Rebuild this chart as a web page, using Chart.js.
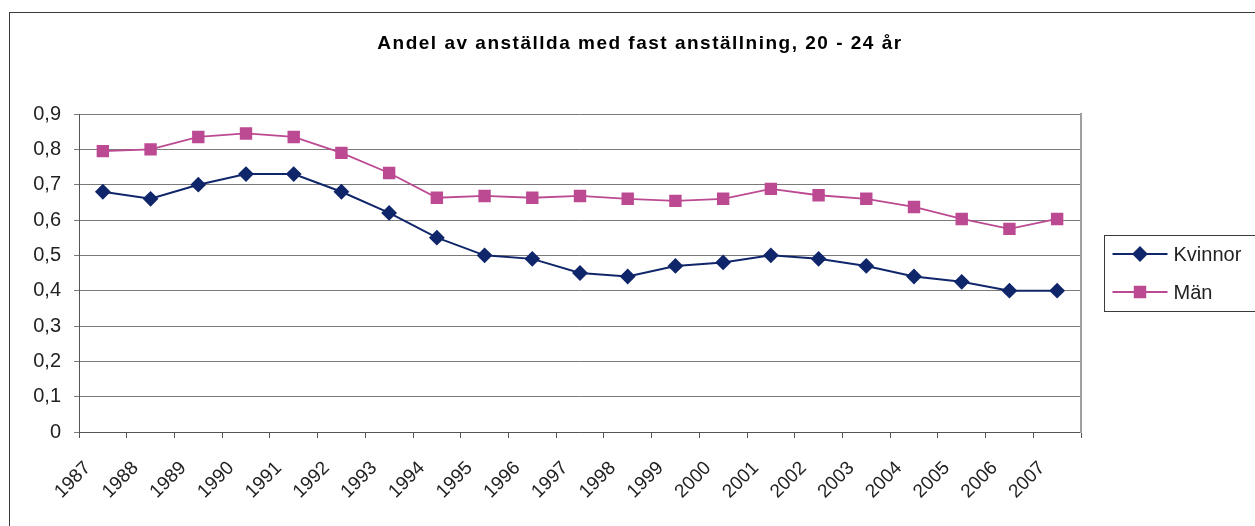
<!DOCTYPE html>
<html>
<head>
<meta charset="utf-8">
<script src="https://cdn.jsdelivr.net/npm/chart.js@4.4.1/dist/chart.umd.min.js"></script>
<style>
html, body { margin: 0; padding: 0; background: #fff; }
#DivGraficos { width: 1255px; height: 526px; }
</style>
</head>
<body>
<div id="DivGraficos"><canvas id="grafica" width="1255" height="526"></canvas></div>
<script>
// Datos
const years = ['1987', '1988', '1989', '1990', '1991', '1992', '1993', '1994', '1995', '1996', '1997',
    '1998', '1999', '2000', '2001', '2002', '2003', '2004', '2005', '2006', '2007'];
const kvinnor = [0.68, 0.66, 0.70, 0.73, 0.73, 0.68, 0.62, 0.55, 0.50, 0.49, 0.45,
    0.44, 0.47, 0.48, 0.50, 0.49, 0.47, 0.44, 0.425, 0.40, 0.40];
const man = [0.795, 0.80, 0.835, 0.845, 0.835, 0.79, 0.733, 0.663, 0.668, 0.663, 0.668,
    0.66, 0.654, 0.66, 0.688, 0.67, 0.66, 0.637, 0.603, 0.575, 0.603];
const seriesNames = ['Kvinnor', 'Män'];
const titleText = 'Andel av anställda med fast anställning, 20 - 24 år';

const FONT = "'Liberation Sans', Arial, sans-serif";
const NAVY = '#10266a';
const PINK = '#bc4a92';

//Marco exterior, titulo espaciado y leyenda con linea + marcador (como Excel)
const marcoYLeyenda = {
    id: 'marcoYLeyenda',
    afterLayout(chart) {
        //el titulo de Excel tiene las letras mas separadas
        const tb = chart.titleBlock;
        if (tb && !tb._espaciado) {
            const drawOrig = tb.draw;
            tb.draw = function () {
                this.ctx.save();
                this.ctx.letterSpacing = '1.5px';
                drawOrig.apply(this, arguments);
                this.ctx.restore();
            };
            tb._espaciado = true;
        }
    },
    beforeDraw(chart) {
        const ctx = chart.ctx;
        ctx.save();
        ctx.fillStyle = '#fff';
        ctx.fillRect(0, 0, chart.width, chart.height);
        ctx.strokeStyle = '#3a3a3a';
        ctx.lineWidth = 1;
        ctx.strokeRect(9.5, 12.5, 1400, 700);
        ctx.restore();
    },
    afterDraw(chart) {
        const ctx = chart.ctx;
        const area = chart.chartArea;
        const left = area.right + 23.5;
        const mid = (area.top + area.bottom) / 2;
        ctx.save();
        ctx.strokeStyle = '#3a3a3a';
        ctx.lineWidth = 1;
        ctx.strokeRect(left, Math.round(mid - 38) + 0.5, 300, 76);
        chart.data.datasets.forEach((ds, i) => {
            const y = mid - 19 + i * 38;
            ctx.strokeStyle = ds.borderColor;
            ctx.lineWidth = ds.borderWidth;
            ctx.beginPath();
            ctx.moveTo(left + 8, y);
            ctx.lineTo(left + 63, y);
            ctx.stroke();
            ctx.fillStyle = ds.pointBackgroundColor;
            ctx.strokeStyle = ds.pointBorderColor;
            Chart.helpers.drawPoint(ctx, {
                pointStyle: ds.pointStyle,
                radius: ds.pointRadius,
                rotation: 0,
                borderWidth: 1
            }, left + 35.5, y);
            ctx.fillStyle = '#222';
            ctx.font = '20px ' + FONT;
            ctx.textBaseline = 'middle';
            ctx.textAlign = 'left';
            ctx.fillText(ds.label, left + 69, y + 1);
        });
        ctx.restore();
    }
};

const datax = {
    labels: years,
    datasets: [{
        label: seriesNames[0],
        data: kvinnor,
        borderColor: NAVY,
        backgroundColor: NAVY,
        pointBackgroundColor: NAVY,
        pointBorderColor: NAVY,
        borderWidth: 2,
        pointStyle: 'rectRot',
        pointRadius: 6.5,
        yAxisID: 'y'
    }, {
        label: seriesNames[1],
        data: man,
        borderColor: PINK,
        backgroundColor: PINK,
        pointBackgroundColor: PINK,
        pointBorderColor: PINK,
        borderWidth: 1.8,
        pointStyle: 'rect',
        pointRadius: 7.5,
        yAxisID: 'y'
    }]
};

const config = {
    type: 'line',
    data: datax,
    options: {
        responsive: false,
        animation: false,
        layout: { padding: { left: 25, top: 32, right: 0, bottom: 0 } },
        plugins: {
            legend: { display: false },
            tooltip: { enabled: false },
            title: {
                display: true,
                text: titleText,
                color: '#000',
                font: { family: FONT, size: 19, weight: 'bold', lineHeight: 1.2 },
                padding: { top: 0, bottom: 59.2 }
            }
        },
        scales: {
            x: {
                offset: true,
                grid: { offset: true, drawOnChartArea: false, drawTicks: true, tickLength: 6, color: '#555' },
                border: { display: true, color: '#555', width: 1 },
                ticks: {
                    color: '#222',
                    font: { family: FONT, size: 19 },
                    minRotation: 45,
                    maxRotation: 45,
                    padding: 19,
                    labelOffset: -15,
                    autoSkip: false
                },
                afterFit(scale) { scale.height = 94; }
            },
            y: {
                min: 0,
                max: 0.9,
                grid: { color: '#7a7a7a', tickLength: 5 },
                border: { display: true, color: '#555', width: 1 },
                ticks: {
                    stepSize: 0.1,
                    color: '#222',
                    padding: 13,
                    font: { family: FONT, size: 20 },
                    callback: (v) => (v === 0 ? '0' : v.toFixed(1).replace('.', ','))
                },
                afterFit(scale) { scale.width = 54; }
            },
            yDer: {
                position: 'right',
                display: true,
                grid: { display: false },
                ticks: { display: false },
                border: { display: true, color: '#a0a0a0', width: 2 },
                afterFit(scale) { scale.width = 174; }
            }
        }
    },
    plugins: [marcoYLeyenda]
};

const ChartPrincipal = new Chart(document.getElementById('grafica'), config);
</script>
</body>
</html>
